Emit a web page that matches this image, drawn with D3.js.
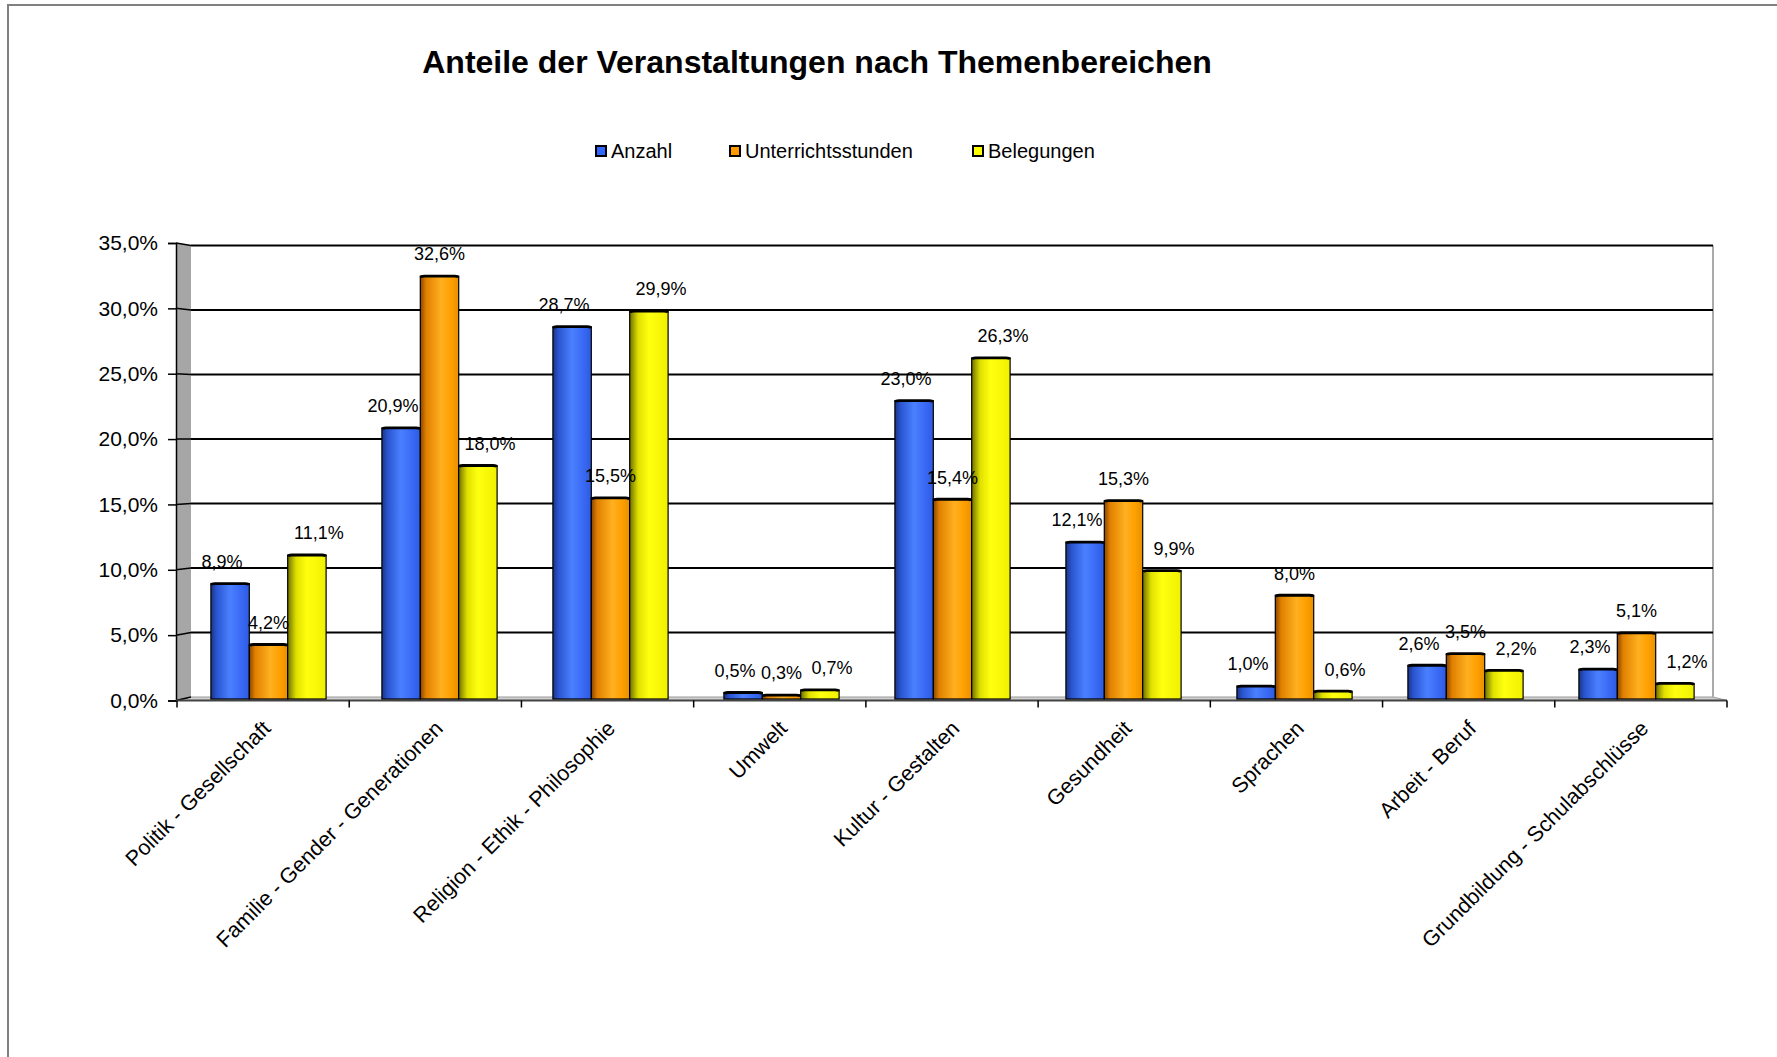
<!DOCTYPE html>
<html><head><meta charset="utf-8">
<script src="https://cdn.jsdelivr.net/npm/d3@7"></script>
<style>
html,body{margin:0;padding:0;background:#fff;}
svg{display:block;font-family:"Liberation Sans",Arial,sans-serif;}
</style></head>
<body>
<svg id="chart" width="1777" height="1057"></svg>
<script>
const categories = ["Politik - Gesellschaft","Familie - Gender - Generationen","Religion - Ethik - Philosophie","Umwelt","Kultur - Gestalten","Gesundheit","Sprachen","Arbeit - Beruf","Grundbildung - Schulabschlüsse"];
const seriesNames = ["Anzahl","Unterrichtsstunden","Belegungen"];
const anzahl = [8.9,20.9,28.7,0.5,23.0,12.1,1.0,2.6,2.3];
const unterrichtsstunden = [4.2,32.6,15.5,0.3,15.4,15.3,8.0,3.5,5.1];
const belegungen = [11.1,18.0,29.9,0.7,26.3,9.9,0.6,2.2,1.2];
const yTicks = [0,5,10,15,20,25,30,35];
const title = "Anteile der Veranstaltungen nach Themenbereichen";

const seriesValues = [anzahl, unterrichtsstunden, belegungen];
const legendColors = ["#3366ff","#ff9900","#ffff00"];
const gradStops = [
  [[0,"#1a3585"],[0.15,"#2a55d0"],[0.5,"#4a80ff"],[0.78,"#3a6af5"],[1,"#2d5ae0"]],
  [[0,"#8a4500"],[0.15,"#e08000"],[0.55,"#ffb020"],[0.8,"#ffa000"],[1,"#e89000"]],
  [[0,"#707000"],[0.22,"#e0e000"],[0.5,"#ffff10"],[1,"#f0f000"]]
];
const fmt = v => v.toFixed(1).replace(".",",") + "%";

const svg = d3.select("#chart");
const defs = svg.append("defs");
gradStops.forEach((st,i)=>{
  const g = defs.append("linearGradient").attr("id","g"+i).attr("x1","0").attr("x2","1").attr("y1","0").attr("y2","0");
  st.forEach(s=>g.append("stop").attr("offset",s[0]).attr("stop-color",s[1]));
});

// frame
svg.append("path").attr("d","M8,1057 L8,5 L1777,5").attr("fill","none").attr("stroke","#808080").attr("stroke-width",2);

// title
svg.append("text").attr("x",817).attr("y",73).attr("text-anchor","middle")
  .attr("font-size",32).attr("font-weight","bold").attr("fill","#000").text(title);

// legend
const legX = [596,730,973];
const leg = svg.append("g");
seriesNames.forEach((n,i)=>{
  leg.append("rect").attr("x",legX[i]).attr("y",146).attr("width",10).attr("height",10)
    .attr("fill",legendColors[i]).attr("stroke","#000").attr("stroke-width",2);
  leg.append("text").attr("x",legX[i]+15).attr("y",158).attr("font-size",20).attr("fill","#000").text(n);
});

// geometry
const backL = 191, backR = 1713, frontL = 176, frontR = 1727;
const yBack = d3.scaleLinear().domain([0,35]).range([697,245.5]);
const yFront = d3.scaleLinear().domain([0,35]).range([700.5,243]);
const yBar = d3.scaleLinear().domain([0,35]).range([699,245]);

// side wall
svg.append("polygon").attr("points",`${frontL},${yFront(35)} ${backL},${yBack(35)} ${backL},${yBack(0)} ${frontL},${yFront(0)}`)
  .attr("fill","#a6a6a6");
// floor
svg.append("polygon").attr("points",`${frontL},${yFront(0)} ${backL},${yBack(0)} ${backR},${yBack(0)} ${frontR},${yFront(0)}`)
  .attr("fill","#d0d0d0").attr("stroke","#9a9a9a").attr("stroke-width",1);
// right wall edge
svg.append("line").attr("x1",backR).attr("x2",backR).attr("y1",yBack(35)).attr("y2",yBack(0))
  .attr("stroke","#aaaaaa").attr("stroke-width",2);

// gridlines
const grid = svg.append("g");
yTicks.forEach(t=>{
  if (t>0) grid.append("line").attr("x1",backL).attr("x2",backR).attr("y1",yBack(t)).attr("y2",yBack(t))
    .attr("stroke","#000").attr("stroke-width",1.8);
  grid.append("line").attr("x1",frontL).attr("x2",backL).attr("y1",yFront(t)).attr("y2",yBack(t))
    .attr("stroke","#000").attr("stroke-width",1.5);
});

// y axis (front)
const yAxis = d3.axisLeft(yFront).tickValues(yTicks).tickFormat(fmt).tickSize(8).tickPadding(10);
const ya = svg.append("g").attr("transform",`translate(${frontL},0)`).call(yAxis);
ya.select(".domain").attr("stroke","#000").attr("stroke-width",1.5);
ya.selectAll(".tick line").attr("stroke","#000").attr("stroke-width",1.5);
ya.selectAll(".tick text").attr("font-size",21).attr("font-family","Liberation Sans, Arial, sans-serif").attr("fill","#000");

// x axis (front)
const xTick = d3.scaleBand().domain(categories).range([177,frontR]);
svg.append("line").attr("x1",frontL).attr("x2",frontR).attr("y1",yFront(0)).attr("y2",yFront(0))
  .attr("stroke","#444").attr("stroke-width",2);
const bounds = categories.map(c=>xTick(c)).concat([xTick.range()[1]]);
svg.append("g").selectAll("line").data(bounds).join("line")
  .attr("x1",d=>d).attr("x2",d=>d).attr("y1",yFront(0)).attr("y2",yFront(0)+7)
  .attr("stroke","#000").attr("stroke-width",1.5);
svg.append("g").selectAll("text").data(categories).join("text")
  .attr("transform",d=>`translate(${xTick(d)+xTick.bandwidth()/2-2},719) rotate(-45)`)
  .attr("text-anchor","end").attr("dy","0.71em").attr("font-size",21.5).attr("fill","#000").text(d=>d);

// bars
const x0 = d3.scaleBand().domain(categories).range([183,1722]);
const barW = 38.4;
const x1 = d3.scaleBand().domain(seriesNames).range([x0.bandwidth()/2 - 1.5*barW, x0.bandwidth()/2 + 1.5*barW]);
const labelDx = [-8,0,12];
const bars = svg.append("g");
const labels = svg.append("g");
seriesNames.forEach((s,si)=>{
  const vals = seriesValues[si];
  categories.forEach((c,ci)=>{
    const v = vals[ci];
    const bx = x0(c)+x1(s), by = yBar(v), bh = yBar(0)-yBar(v);
    bars.append("rect").attr("x",bx).attr("y",by).attr("width",x1.bandwidth()).attr("height",bh)
      .attr("fill",`url(#g${si})`).attr("stroke","#000").attr("stroke-width",1.2);
    bars.append("path").attr("d",`M${bx+0.5},${by+1.5} Q${bx+1},${by} ${bx+4},${by} L${bx+x1.bandwidth()-4},${by} Q${bx+x1.bandwidth()-1},${by} ${bx+x1.bandwidth()-0.5},${by+1.5}`)
      .attr("fill","none").attr("stroke","#000").attr("stroke-width",2.8);
    labels.append("text").attr("x",bx+x1.bandwidth()/2+labelDx[si]).attr("y",by-22).attr("dy","0.35em")
      .attr("text-anchor","middle").attr("font-size",18).attr("fill","#000").text(fmt(v));
  });
});
</script>
</body></html>
